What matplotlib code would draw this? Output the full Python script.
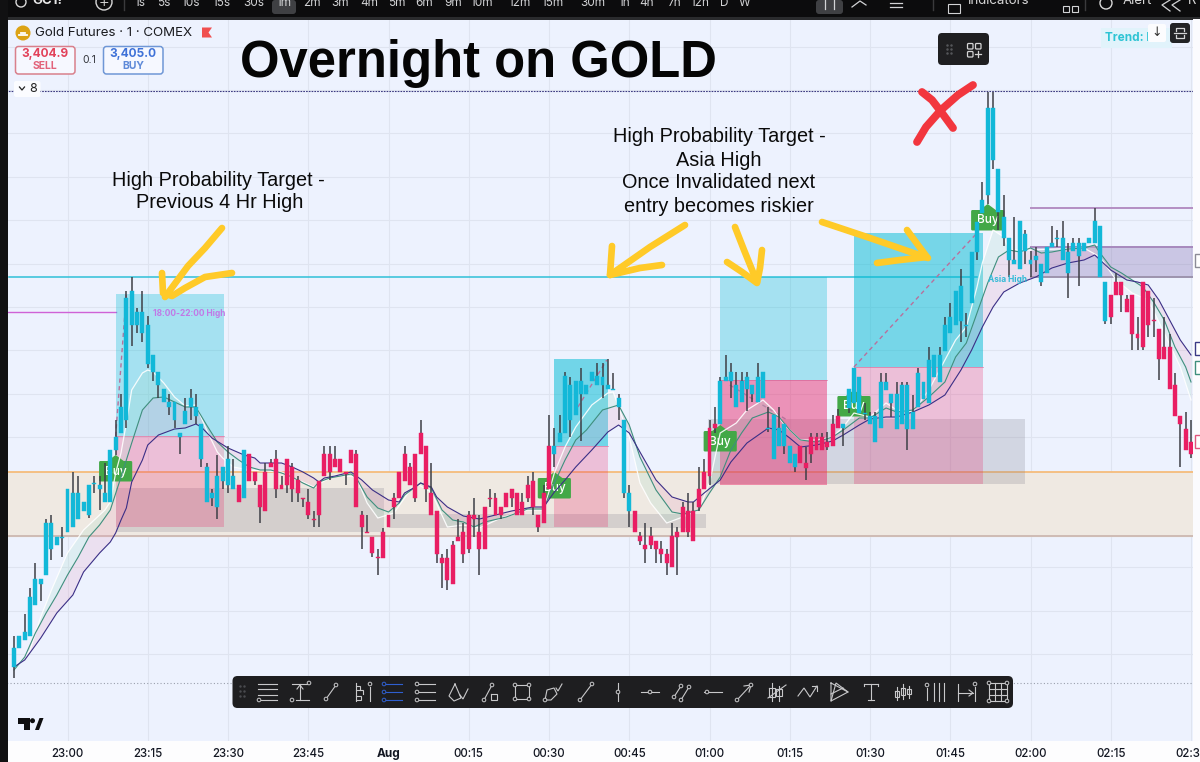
import matplotlib
matplotlib.use('Agg')
import matplotlib.pyplot as plt
from matplotlib.patches import FancyBboxPatch, Rectangle, Polygon, Circle
import numpy as np

# one minute bars, bar 0 is 22:50
body_tops = [
    3365.2, 3366.4, 3366.8, 3370.3, 3372.1, 3372.1, 3377.7, 3377.7, 3376.3, 3376.3,
    3381.1, 3380.7, 3380.7, 3379.8, 3381.5, 3381.7, 3381.5, 3380.7, 3385.0, 3386.3,
    3389.3, 3400.2, 3400.9, 3398.8, 3398.8, 3397.5, 3394.5, 3392.8, 3391.1, 3389.8,
    3389.8, 3386.7, 3388.9, 3390.2, 3389.3, 3387.6, 3383.3, 3380.7, 3382.4, 3383.3,
    3384.1, 3382.4, 3381.5, 3385.0, 3384.6, 3382.8, 3381.5, 3382.8, 3383.7, 3384.1,
    3381.5, 3384.1, 3383.3, 3382.0, 3380.2, 3379.8, 3378.1, 3381.9, 3384.6, 3384.6,
    3384.1, 3384.1, 3382.8, 3385.0, 3384.6, 3378.5, 3376.8, 3376.3, 3374.3, 3376.8,
    3378.5, 3380.2, 3382.8, 3384.6, 3383.3, 3384.6, 3386.7, 3385.4, 3380.7, 3378.9,
    3374.2, 3374.2, 3375.5, 3376.3, 3376.8, 3378.5, 3378.5, 3376.8, 3379.3, 3380.2,
    3380.2, 3379.3, 3380.7, 3381.1, 3380.7, 3379.8, 3381.5, 3381.9, 3378.5, 3380.7,
    3385.4, 3385.4, 3386.7, 3392.4, 3391.5, 3391.9, 3391.9, 3391.5, 3392.8, 3392.4,
    3392.3, 3391.5, 3391.1, 3390.2, 3388.0, 3380.7, 3378.9, 3376.4, 3375.5, 3376.4,
    3375.9, 3375.1, 3374.6, 3376.4, 3376.8, 3379.3, 3378.9, 3378.9, 3381.1, 3382.8,
    3387.2, 3387.6, 3391.9, 3392.3, 3392.8, 3391.5, 3391.9, 3392.3, 3391.5, 3392.3,
    3392.8, 3387.2, 3388.5, 3387.2, 3387.6, 3385.4, 3384.6, 3385.4, 3383.7, 3386.3,
    3386.3, 3386.3, 3385.8, 3387.6, 3388.4, 3387.6, 3391.1, 3393.2, 3392.3, 3388.7,
    3388.4, 3388.4, 3391.8, 3391.8, 3390.6, 3390.6, 3391.5, 3391.5, 3388.8, 3392.7,
    3391.8, 3394.0, 3394.5, 3394.5, 3397.5, 3398.3, 3400.9, 3401.4, 3397.5, 3404.8,
    3407.8, 3410.0, 3419.2, 3419.2, 3413.1, 3408.3, 3406.2, 3404.0, 3407.9, 3406.6,
    3404.0, 3404.4, 3403.6, 3405.3, 3405.7, 3406.2, 3406.2, 3404.8, 3405.7, 3405.7,
    3405.7, 3406.2, 3407.9, 3407.4, 3401.8, 3400.5, 3401.8, 3401.8, 3400.1, 3400.5,
    3396.6, 3401.8, 3400.9, 3398.0, 3397.1, 3395.3, 3395.3, 3391.5, 3388.4, 3387.1, 3385.8,
]
body_bottoms = [
    3363.3, 3365.2, 3366.0, 3366.4, 3369.5, 3371.6, 3372.5, 3375.1, 3375.5, 3376.2,
    3376.8, 3377.3, 3378.1, 3378.9, 3378.5, 3381.6, 3381.1, 3379.8, 3379.8, 3385.0,
    3386.7, 3388.0, 3397.5, 3397.5, 3396.7, 3393.6, 3392.8, 3391.5, 3389.8, 3389.3,
    3388.0, 3386.3, 3387.6, 3389.3, 3388.4, 3384.1, 3379.8, 3380.2, 3379.3, 3381.9,
    3381.5, 3381.1, 3379.8, 3380.2, 3381.9, 3381.9, 3379.3, 3378.9, 3383.3, 3381.1,
    3381.1, 3381.5, 3381.1, 3380.7, 3380.1, 3378.5, 3378.0, 3378.5, 3382.4, 3382.8,
    3383.3, 3382.8, 3382.6, 3383.7, 3379.3, 3377.3, 3376.7, 3374.7, 3374.2, 3374.2,
    3377.3, 3379.3, 3380.2, 3381.9, 3381.5, 3380.2, 3384.6, 3381.1, 3378.5, 3374.6,
    3373.7, 3372.0, 3371.6, 3375.9, 3374.6, 3375.1, 3378.1, 3375.1, 3375.1, 3380.1,
    3378.5, 3378.5, 3379.3, 3380.2, 3378.5, 3378.5, 3380.2, 3379.3, 3377.3, 3377.7,
    3381.1, 3384.6, 3385.8, 3386.7, 3388.0, 3388.5, 3390.6, 3390.6, 3391.9, 3391.5,
    3391.5, 3391.1, 3391.0, 3389.3, 3380.7, 3378.9, 3376.8, 3375.9, 3375.1, 3375.5,
    3375.1, 3374.6, 3373.7, 3373.3, 3376.3, 3376.8, 3376.8, 3375.9, 3379.3, 3381.1,
    3382.4, 3387.2, 3387.6, 3391.9, 3391.9, 3389.3, 3389.8, 3391.1, 3390.6, 3389.8,
    3390.2, 3387.1, 3384.1, 3385.4, 3385.4, 3383.7, 3383.3, 3383.7, 3383.2, 3384.6,
    3385.0, 3385.0, 3385.3, 3385.4, 3387.2, 3387.2, 3389.2, 3389.7, 3388.7, 3388.6,
    3387.6, 3385.8, 3387.2, 3391.0, 3389.7, 3387.1, 3387.6, 3387.1, 3387.1, 3389.3,
    3390.1, 3389.7, 3392.3, 3391.8, 3394.9, 3396.7, 3397.5, 3397.9, 3397.4, 3399.7,
    3404.8, 3408.7, 3410.5, 3414.0, 3408.8, 3406.2, 3404.0, 3403.6, 3403.1, 3404.9,
    3403.6, 3404.0, 3401.8, 3402.7, 3405.3, 3406.1, 3404.0, 3402.7, 3404.9, 3404.4,
    3404.9, 3405.7, 3405.7, 3402.3, 3397.9, 3398.3, 3400.5, 3400.5, 3398.8, 3396.6,
    3396.2, 3395.3, 3397.5, 3397.9, 3394.1, 3394.1, 3391.1, 3388.4, 3387.6, 3385.0, 3384.6,
]
highs = [
    3366.4, 3366.4, 3368.6, 3371.2, 3373.7, 3372.1, 3378.1, 3378.5, 3376.3, 3377.3,
    3381.1, 3382.8, 3382.4, 3379.8, 3381.5, 3382.4, 3382.4, 3383.7, 3385.0, 3388.0,
    3390.6, 3400.9, 3402.3, 3399.2, 3400.9, 3398.4, 3394.5, 3392.8, 3391.1, 3390.6,
    3389.8, 3386.7, 3390.2, 3391.1, 3390.6, 3387.6, 3383.7, 3381.1, 3384.5, 3383.3,
    3385.4, 3384.1, 3381.5, 3385.0, 3384.6, 3382.8, 3381.5, 3383.7, 3384.1, 3385.0,
    3382.4, 3384.1, 3383.7, 3382.4, 3380.2, 3381.1, 3378.9, 3381.9, 3385.4, 3385.4,
    3385.4, 3384.1, 3382.8, 3385.0, 3385.0, 3378.9, 3378.5, 3376.3, 3375.1, 3377.2,
    3378.5, 3380.7, 3382.8, 3385.4, 3383.7, 3384.6, 3388.0, 3385.4, 3383.7, 3378.9,
    3374.6, 3375.1, 3375.9, 3378.1, 3377.7, 3378.9, 3380.2, 3378.5, 3379.3, 3381.1,
    3380.7, 3379.3, 3380.7, 3381.1, 3380.7, 3380.7, 3382.4, 3382.8, 3378.5, 3381.5,
    3388.5, 3387.2, 3388.5, 3392.8, 3392.3, 3391.9, 3393.2, 3391.5, 3392.8, 3393.7,
    3393.7, 3394.1, 3392.7, 3390.6, 3388.0, 3381.5, 3378.9, 3376.8, 3377.7, 3377.3,
    3375.9, 3375.9, 3375.1, 3377.7, 3377.3, 3379.8, 3380.7, 3379.8, 3383.3, 3384.1,
    3388.0, 3389.3, 3392.3, 3394.5, 3393.7, 3392.8, 3392.8, 3392.8, 3391.5, 3393.7,
    3392.8, 3389.3, 3388.5, 3389.3, 3387.6, 3385.4, 3384.6, 3385.4, 3385.3, 3386.7,
    3386.7, 3386.7, 3386.8, 3388.5, 3389.1, 3387.6, 3391.1, 3393.2, 3392.3, 3389.7,
    3388.8, 3388.8, 3392.7, 3392.7, 3390.6, 3391.8, 3391.8, 3391.8, 3390.5, 3393.2,
    3391.8, 3395.3, 3394.5, 3395.3, 3398.3, 3399.7, 3400.9, 3403.1, 3398.7, 3404.8,
    3407.8, 3411.8, 3420.8, 3420.8, 3413.1, 3410.5, 3406.2, 3408.3, 3407.9, 3407.0,
    3404.9, 3405.3, 3403.6, 3405.3, 3407.4, 3407.0, 3407.9, 3405.7, 3406.2, 3406.2,
    3405.7, 3406.2, 3409.2, 3407.4, 3401.8, 3400.5, 3402.7, 3401.8, 3400.5, 3400.5,
    3398.3, 3401.8, 3400.9, 3400.2, 3397.1, 3398.3, 3396.6, 3392.7, 3388.4, 3388.8, 3388.0,
]
lows = [
    3362.2, 3365.2, 3366.0, 3366.4, 3369.5, 3369.9, 3372.5, 3374.0, 3375.5, 3374.3,
    3376.8, 3377.3, 3378.1, 3378.9, 3378.2, 3380.7, 3379.0, 3379.8, 3379.8, 3384.5,
    3386.7, 3387.2, 3395.4, 3396.7, 3395.8, 3393.2, 3391.9, 3390.2, 3389.8, 3388.5,
    3387.2, 3384.6, 3387.6, 3388.0, 3387.6, 3383.3, 3379.8, 3379.4, 3378.1, 3381.1,
    3380.7, 3381.1, 3379.8, 3380.2, 3381.9, 3381.5, 3377.7, 3378.9, 3383.3, 3380.2,
    3381.1, 3380.7, 3379.8, 3379.8, 3379.3, 3378.1, 3377.3, 3377.3, 3382.4, 3382.0,
    3383.3, 3382.8, 3381.5, 3383.7, 3379.3, 3375.1, 3376.7, 3374.3, 3372.5, 3374.2,
    3377.3, 3378.1, 3380.2, 3381.9, 3381.5, 3379.8, 3384.6, 3379.8, 3378.5, 3373.7,
    3371.2, 3371.0, 3371.6, 3375.9, 3373.7, 3374.7, 3376.3, 3372.5, 3375.1, 3379.3,
    3378.5, 3378.1, 3379.3, 3379.3, 3378.5, 3378.5, 3379.8, 3378.5, 3376.8, 3377.7,
    3381.1, 3383.3, 3385.8, 3386.7, 3386.3, 3388.5, 3385.9, 3390.6, 3391.9, 3391.5,
    3390.2, 3391.1, 3391.0, 3388.0, 3380.2, 3377.3, 3376.8, 3375.5, 3373.7, 3375.1,
    3373.7, 3373.7, 3372.5, 3373.3, 3372.5, 3376.8, 3376.3, 3375.9, 3378.9, 3381.1,
    3381.5, 3386.7, 3387.6, 3391.9, 3390.2, 3389.3, 3389.8, 3388.9, 3389.8, 3389.8,
    3390.2, 3386.8, 3384.1, 3385.4, 3384.6, 3383.7, 3382.8, 3383.7, 3382.0, 3383.7,
    3385.0, 3385.0, 3385.0, 3385.4, 3387.2, 3385.4, 3388.7, 3389.7, 3388.7, 3388.0,
    3387.6, 3385.8, 3387.2, 3391.0, 3388.3, 3387.1, 3387.6, 3385.0, 3387.1, 3389.3,
    3390.1, 3389.7, 3392.3, 3391.8, 3394.9, 3396.7, 3397.5, 3395.8, 3396.3, 3399.7,
    3404.0, 3408.7, 3409.6, 3413.1, 3407.0, 3405.4, 3402.3, 3403.6, 3403.1, 3403.6,
    3402.3, 3402.8, 3401.4, 3402.7, 3405.3, 3405.3, 3404.0, 3400.2, 3404.9, 3401.4,
    3404.9, 3405.7, 3405.7, 3402.3, 3397.6, 3397.6, 3400.5, 3398.8, 3398.8, 3395.0,
    3395.0, 3395.0, 3396.3, 3396.3, 3392.0, 3394.1, 3391.1, 3388.4, 3383.3, 3385.0, 3384.2,
]
# bars where the candle colour flips, starting out cyan
colour_flips = [42, 43, 44, 101, 116, 132, 147, 155, 205]

slow_bars = [0, 2, 5, 8, 11, 13, 16, 18, 19, 20, 21, 22, 24, 25, 27, 30, 32, 34, 35, 37, 40, 43, 45, 46, 50,
             52, 54, 56, 57, 58, 60, 63, 65, 67, 70, 72, 73, 75, 76, 78, 79, 81, 84, 87, 90, 93, 97, 99, 101,
             103, 105, 108, 111, 113, 115, 117, 120, 123, 126, 127, 129, 132, 134, 137, 141, 143, 145, 147,
             150, 153, 155, 158, 160, 163, 165, 168, 171, 174, 177, 179, 181, 183, 185, 188, 191, 194, 197,
             200, 202, 203, 205, 208, 210, 212, 214, 216, 218, 220]
slow_ma = [3363.3, 3364.0, 3366.2, 3368.7, 3370.5, 3372.8, 3374.7, 3375.8, 3376.7, 3378.0, 3379.2, 3381.8, 3384.0,
           3385.5, 3386.5, 3387.1, 3387.2, 3387.6, 3387.3, 3386.2, 3385.2, 3384.5, 3384.2, 3383.7, 3383.7,
           3383.3, 3382.8, 3382.2, 3381.8, 3382.2, 3382.4, 3382.8, 3382.0, 3381.0, 3380.0, 3379.8, 3380.7,
           3381.3, 3381.7, 3381.3, 3380.3, 3379.3, 3378.4, 3378.1, 3378.5, 3378.9, 3379.3, 3379.3, 3380.8,
           3382.0, 3383.3, 3385.0, 3386.8, 3387.5, 3386.7, 3384.8, 3382.0, 3380.3, 3379.8, 3379.8, 3380.7,
           3382.0, 3383.8, 3385.7, 3387.2, 3387.0, 3386.2, 3385.3,
           3385.5, 3385.9, 3386.5, 3387.5, 3388.1, 3388.3, 3388.3, 3388.8, 3389.5, 3390.5, 3393.0, 3395.0,
           3397.3, 3399.3, 3400.8, 3401.7, 3402.3, 3403.2, 3403.7, 3404.0, 3404.5, 3404.0, 3403.0, 3402.0,
           3401.8, 3401.5, 3400.0, 3398.0, 3396.0, 3394.5]
mid_bars = [0, 2, 4, 6, 8, 10, 12, 14, 16, 18, 20, 22, 24, 26, 28, 30, 32, 34, 36, 38, 40, 42, 44, 46, 48, 50,
            52, 54, 56, 57, 59, 61, 63, 64, 66, 68, 70, 72, 73, 76, 78, 80, 82, 84, 86, 88, 92, 96, 99, 101,
            103, 105, 107, 110, 113, 115, 117, 120, 123, 125, 128, 130, 132, 134, 136, 138, 141, 143, 145,
            147, 150, 153, 155, 158, 160, 163, 165, 168, 171, 174, 176, 178, 180, 182, 184, 186, 188, 190,
            192, 194, 197, 200, 202, 203, 205, 207, 209, 211, 213, 215, 217, 219, 220]
mid_ma = [3363.0, 3364.3, 3366.7, 3368.7, 3370.5, 3372.5, 3374.3, 3376.3, 3377.5, 3379.0, 3382.3, 3385.7, 3389.0,
          3390.2, 3390.3, 3389.8, 3389.3, 3389.3, 3387.5, 3385.8, 3384.8, 3384.0, 3383.3, 3383.0, 3383.0, 3382.7,
          3382.3, 3381.7, 3381.2, 3381.8, 3382.2, 3382.4, 3382.6, 3382.2, 3380.3, 3379.2, 3378.8, 3379.7, 3380.5,
          3381.7, 3381.2, 3379.0, 3378.0, 3377.8, 3377.3, 3377.8, 3378.3, 3379.1, 3379.1, 3381.7,
          3384.0, 3386.0, 3387.0, 3389.0, 3389.5, 3387.5, 3384.3, 3381.0, 3378.8, 3378.6, 3379.0, 3380.7, 3382.3,
          3385.0, 3386.7, 3388.2, 3388.8, 3388.3, 3387.0,
          3386.0, 3385.8, 3386.3, 3387.0, 3388.2, 3388.2, 3389.2, 3388.8, 3389.0, 3390.3, 3391.8, 3394.3, 3395.7,
          3398.7, 3401.7, 3404.3, 3405.0, 3404.8, 3405.2, 3404.7, 3404.8, 3405.1, 3405.2, 3405.5, 3404.7, 3403.3,
          3402.7, 3402.0, 3401.3, 3399.8, 3398.0, 3395.3, 3393.3, 3391.8]
fast_bars = [0, 3, 5, 7, 10, 13, 17, 18, 19, 20, 21, 22, 24, 25, 26, 28, 30, 32, 34, 36, 38, 39, 41, 44, 50, 56,
             60, 64, 66, 68, 71, 75, 78, 81, 84, 87, 91, 96, 99, 101, 103, 105, 108, 111, 112, 115, 117, 119,
             122, 125, 128, 130, 132, 135, 137, 140, 142, 144, 147, 150, 153, 155, 157, 160, 163, 165, 168,
             171, 174, 176, 178, 180, 181, 183, 185, 186, 190, 200, 203, 206, 209, 212, 215, 218, 220]
fast_ma = [3363.0, 3365.0, 3368.3, 3371.0, 3374.7, 3377.0, 3379.0, 3379.8, 3382.7, 3384.7, 3387.7, 3391.0, 3392.7,
           3393.0, 3392.8, 3391.7, 3390.3, 3389.4, 3389.5, 3387.0, 3384.8, 3384.2, 3383.3, 3383.0, 3382.8, 3381.3,
           3382.5, 3382.3, 3379.7, 3378.2, 3378.7, 3381.7, 3380.8, 3377.3, 3377.5, 3377.2, 3378.2, 3379.0, 3379.0,
           3382.7, 3385.3, 3387.3, 3389.5, 3390.7, 3390.8, 3386.3, 3381.7, 3379.7, 3377.7, 3378.3, 3379.0, 3381.7,
           3386.7, 3387.7, 3389.0, 3390.0, 3389.0, 3387.5, 3386.0, 3386.0, 3386.3, 3387.3, 3388.7, 3388.3, 3389.7,
           3389.0, 3388.8, 3391.0, 3394.0, 3396.0, 3397.3, 3401.3, 3403.7, 3407.0, 3406.3, 3405.0, 3405.0, 3405.2,
           3404.3, 3402.0, 3400.7, 3400.0, 3396.7, 3393.3, 3390.0]

# long position tools: start bar, end bar, target, entry, stop
pos_starts = [19, 101, 132, 157]
pos_ends = [39.2, 111.1, 152, 181.2]
pos_targets = [3400.6, 3394.1, 3402.3, 3406.7]
pos_entries = [3386.4, 3385.4, 3392.0, 3393.3]
pos_stops = [3377.3, 3377.3, 3381.5, 3381.6]
pos_blue_alpha = [0.3, 0.52, 0.3, 0.5]
pos_pink_alpha = [0.24, 0.24, 0.45, 0.24]
# dashed path inside each tool
path_x0 = [19, 105.4, 133.8, 157]
path_x1 = [21, 110.8, 144.5, 180]
path_y0 = [3386.4, 3389.3, 3391.5, 3393.3]
path_y1 = [3400.6, 3394.0, 3388.0, 3406.7]

grey_starts = [19, 70, 129.8]
grey_ends = [69.1, 129.3, 189]
grey_tops = [3381.2, 3378.6, 3388.1]
grey_bottoms = [3376.8, 3377.2, 3381.6]

buy_bars = [19, 101, 132, 157, 182]
buy_tips = [3384.5, 3382.8, 3387.5, 3391.0, 3409.6]

tick_bars = [10, 25, 40, 55, 70, 85, 100, 115, 130, 145, 160, 175, 190, 205, 220]
tick_labels = ['23:00', '23:15', '23:30', '23:45', 'Aug', '00:15', '00:30', '00:45',
               '01:00', '01:15', '01:30', '01:45', '02:00', '02:15', '02:30']

interval_labels = ['1s', '5s', '10s', '15s', '30s', '1m', '2m', '3m', '4m', '5m', '6m', '9m', '10m',
                   '12m', '15m', '30m', '1h', '4h', '7h', '12h', 'D', 'W']
interval_x = [140, 164, 191, 222, 254, 284, 312, 340, 369, 397, 424, 453, 482, 520, 553, 593, 624, 647, 674, 700, 724, 745]

BG = '#edf2fe'
CYAN = '#12b8d8'
RED = '#e91e63'
WICK = '#3d3f46'

fig = plt.figure(figsize=(12, 7.62), dpi=100, facecolor='white')

# price chart, x is the bar number and y the price
ax = fig.add_axes([0, 0, 1, 1], facecolor=BG)
ax.set_xlim((0 - 14) / 5.35, (1200 - 14) / 5.35)
ax.set_ylim(3430 - 76.2, 3430)
for spine in ax.spines.values():
    spine.set_visible(False)
ax.set_xticks([])
ax.set_yticks([])

for b in tick_bars:
    ax.axvline(b, color='#dfe4f0', lw=0.8, zorder=1)
for p in np.arange(3399.3 - 4.34 * 8, 3399.3 + 4.34 * 8, 4.34):
    ax.axhline(p, color='#dfe4f0', lw=0.8, zorder=1)

# session range band
ax.axhspan(3376.4, 3382.8, color='#efe9e2', zorder=1.5)
ax.axhline(3382.8, color='#f5bc7c', lw=1.3, zorder=2)
ax.axhline(3376.4, color='#c9b3ad', lw=1.2, zorder=2)

ax.axhline(3420.9, color='#3c3a80', lw=0.8, ls=(0, (1.5, 1)), zorder=2)
ax.axhline(3361.7, color='#9aa0ad', lw=0.8, ls=(0, (1, 2)), zorder=2)
ax.plot([-1, 180], [3402.3, 3402.3], color='#2fc0d8', lw=1.1, zorder=2)
ax.plot([-3, 19], [3398.8, 3398.8], color='#cf62d6', lw=1.0, zorder=2)

# purple range on the right
ax.add_patch(Rectangle((190, 3402.3), 30.4, 3.0, facecolor='#7b63a8', alpha=0.3, edgecolor='none', zorder=2))
ax.plot([190, 220.4], [3405.3, 3405.3], color='#a789bd', lw=1.4, zorder=2.1)
ax.plot([190, 220.4], [3402.3, 3402.3], color='#9c93ad', lw=1.4, zorder=2.1)
ax.plot([190, 220.4], [3409.2, 3409.2], color='#b48fc3', lw=1.4, zorder=2.1)

for x0, x1, top, bottom in zip(grey_starts, grey_ends, grey_tops, grey_bottoms):
    ax.add_patch(Rectangle((x0, bottom), x1 - x0, top - bottom, facecolor='#7f7f8c', alpha=0.24,
                           edgecolor='none', zorder=2.2))

for i in range(len(pos_starts)):
    w = pos_ends[i] - pos_starts[i]
    ax.add_patch(Rectangle((pos_starts[i], pos_entries[i]), w, pos_targets[i] - pos_entries[i],
                           facecolor='#00bcd4', alpha=pos_blue_alpha[i], edgecolor='none', zorder=2.4))
    ax.add_patch(Rectangle((pos_starts[i], pos_stops[i]), w, pos_entries[i] - pos_stops[i],
                           facecolor='#e91e63', alpha=pos_pink_alpha[i], edgecolor='none', zorder=2.4))
    ax.plot([pos_starts[i], pos_ends[i]], [pos_entries[i]] * 2, color='#d0568c', lw=0.6, alpha=0.6, zorder=2.5)
    ax.plot([path_x0[i], path_x1[i]], [path_y0[i], path_y1[i]], color='#b8709c', lw=1.0,
            ls=(0, (3, 2.5)), zorder=2.6)

# ribbons between the averages
ax.fill(list(fast_bars) + list(mid_bars)[::-1], list(fast_ma) + list(mid_ma)[::-1],
        color='#a9dcc8', alpha=0.22, lw=0, zorder=3)
ax.fill(list(mid_bars) + list(slow_bars)[::-1], list(mid_ma) + list(slow_ma)[::-1],
        color='#e8a0c0', alpha=0.22, lw=0, zorder=3)

# buy labels sit under the candles
for bar, tip in zip(buy_bars, buy_tips):
    ax.add_patch(FancyBboxPatch((bar - 3.1, tip - 2.65), 6.2, 2.05,
                                boxstyle='round,pad=0,rounding_size=0.25', mutation_aspect=0.55,
                                facecolor='#43a847', edgecolor='none', zorder=3.5))
    ax.add_patch(Polygon([[bar - 1.5, tip - 0.6], [bar, tip], [bar + 1.5, tip - 0.6]],
                         facecolor='#43a847', edgecolor='none', zorder=3.5))
    ax.text(bar, tip - 1.65, 'Buy', color='white', fontsize=8.5, family='Inter', weight='medium',
            ha='center', va='center', zorder=3.6)

ax.plot(fast_bars, fast_ma, color='white', lw=0.9, alpha=0.9, zorder=3.8)
ax.plot(mid_bars, mid_ma, color='#3f8f7e', lw=0.8, zorder=3.9)
ax.plot(slow_bars, slow_ma, color='#3b2f86', lw=0.8, zorder=3.9)

# candles
bars = np.arange(len(highs))
up = np.ones(len(highs), dtype=bool)
for flip in colour_flips:
    up[flip:] = ~up[flip:]
colours = [CYAN if u else RED for u in up]
ax.vlines(bars, lows, highs, color=WICK, lw=1.1, zorder=4)
ax.bar(bars, np.array(body_tops) - np.array(body_bottoms), bottom=body_bottoms, width=0.74,
       color=colours, edgecolor=colours, lw=0.3, zorder=4.2)

ax.text(26, 3398.6, '18:00-22:00 High', color='#c178e6', fontsize=6, family='Inter', weight='bold',
        va='center', zorder=5)
ax.text(182, 3402.1, 'Asia High', color='#30b9d6', fontsize=6, family='Inter', weight='bold',
        va='center', zorder=5)

# screen furniture and hand drawn notes, in image pixels
ui = fig.add_axes([0, 0, 1, 1], facecolor='none')
ui.set_xlim(0, 1200)
ui.set_ylim(762, 0)
ui.axis('off')


def box(x0, y0, x1, y1, fc, ec='none', lw=0, r=0.0, z=5):
    if r:
        p = FancyBboxPatch((x0, y0), x1 - x0, y1 - y0, boxstyle=f'round,pad=0,rounding_size={r}',
                           facecolor=fc, edgecolor=ec, lw=lw, zorder=z)
    else:
        p = Rectangle((x0, y0), x1 - x0, y1 - y0, facecolor=fc, edgecolor=ec, lw=lw, zorder=z)
    ui.add_patch(p)


box(0, 0, 1200, 17, '#0c0c0d')
box(0, 17, 1200, 19.5, '#2a2b2d')
box(0, 0, 8, 762, '#111112')
box(8, 741, 1200, 762, '#fdfdfe')
box(1193, 19, 1200, 741, '#fbfbfe')

box(272, 0, 296, 14, '#3f4043', r=3, z=5.1)
box(816, 0, 843, 14, '#3f4043', r=3, z=5.1)
for lab, x in zip(interval_labels, interval_x):
    ui.text(x, 3, lab, color='#d2d3d5', fontsize=8.5, family='Inter', ha='center', va='center', zorder=6)
ui.text(32, 1, 'GC1!', color='#e6e6e6', fontsize=9.5, family='Inter', weight='bold', va='center', zorder=6)
ui.add_patch(Circle((21, 2), 5, fill=False, ec='#d8d8d8', lw=1, zorder=6))
ui.add_patch(Circle((104, 2), 8, fill=False, ec='#d8d8d8', lw=1, zorder=6))
ui.text(104, 2, '+', color='#d8d8d8', fontsize=9, ha='center', va='center', zorder=6)
ui.text(968, 1, 'Indicators', color='#d8d8d8', fontsize=9.5, family='Inter', va='center', zorder=6)
ui.text(1123, 1, 'Alert', color='#d8d8d8', fontsize=9.5, family='Inter', va='center', zorder=6)
ui.text(1192, 1, 'R', color='#d8d8d8', fontsize=9.5, family='Inter', ha='center', va='center', zorder=6)
ui.plot([124, 124], [0, 10], color='#3a3a3c', lw=1, zorder=6)
ui.plot([1085, 1085], [0, 10], color='#3a3a3c', lw=1, zorder=6)
ui.plot([933, 933], [0, 10], color='#3a3a3c', lw=1, zorder=6)
# chart type and indicator glyphs up in the bar
for gx in (825, 834):
    ui.plot([gx, gx], [0, 9], color='#d2d3d5', lw=0.9, zorder=6)
ui.plot([852, 860, 866], [7, 1, 5], color='#d2d3d5', lw=0.9, zorder=6)
ui.plot([890, 902], [3, 3], color='#d2d3d5', lw=0.9, zorder=6)
ui.plot([890, 902], [7, 7], color='#d2d3d5', lw=0.9, zorder=6)
box(948, 4, 960, 13, 'none', ec='#d2d3d5', lw=0.8, z=6)
box(1063, 6, 1069, 12, 'none', ec='#d2d3d5', lw=0.8, z=6)
box(1072, 6, 1078, 12, 'none', ec='#d2d3d5', lw=0.8, z=6)
ui.add_patch(Circle((1106, 3), 6, fill=False, ec='#d8d8d8', lw=1, zorder=6))
ui.plot([1170, 1162, 1170], [0, 5, 11], color='#d2d3d5', lw=0.9, zorder=6)
ui.plot([1180, 1172, 1180], [0, 5, 11], color='#d2d3d5', lw=0.9, zorder=6)

# symbol header
ui.add_patch(Circle((23, 33), 7.5, fc='#dca315', ec='none', zorder=6))
ui.plot([19, 27], [35, 35], color='white', lw=1.3, zorder=6.1)
ui.plot([21, 25], [32.5, 32.5], color='white', lw=1.3, zorder=6.1)
ui.text(35, 33, 'Gold Futures · 1 · COMEX', color='#1b1c20', fontsize=9.6, family='Inter', va='center', zorder=6)
ui.add_patch(Polygon([[202, 27.5], [212, 27.5], [208.5, 32.5], [212, 37.5], [202, 37.5]],
                     fc='#f04f4f', ec='none', zorder=6))
box(15.5, 46.5, 75, 74, '#f6f8ff', ec='#d9808c', lw=1.1, r=3, z=6)
box(103.5, 46.5, 163, 74, '#f6f8ff', ec='#6f97d6', lw=1.1, r=3, z=6)
ui.text(45, 54.5, '3,404.9', color='#e2425a', fontsize=8.5, family='Inter', weight='bold', ha='center', va='center', zorder=7)
ui.text(45, 66, 'SELL', color='#e2627a', fontsize=7.5, family='Inter', weight='bold', ha='center', va='center', zorder=7)
ui.text(133, 54.5, '3,405.0', color='#3f72d8', fontsize=8.5, family='Inter', weight='bold', ha='center', va='center', zorder=7)
ui.text(133, 66, 'BUY', color='#5f8ad8', fontsize=7.5, family='Inter', weight='bold', ha='center', va='center', zorder=7)
ui.text(89, 60, '0.1', color='#33353b', fontsize=7.5, family='Inter', ha='center', va='center', zorder=7)
box(14, 81, 40.5, 97, '#fbfcff', r=2, z=6)
ui.plot([19.5, 22, 24.5], [87, 90, 87], color='#222', lw=0.9, zorder=7)
ui.text(33, 88.5, '8', color='#222', fontsize=9, family='Inter', ha='center', va='center', zorder=7)

# floating widgets
box(938, 33, 989, 65, '#1f1f21', r=4, z=6)
for dx in (947, 951):
    for dy in (45, 49, 53):
        ui.plot([dx], [dy], '.', color='#55565a', ms=1.6, zorder=7)
for sx, sy in ((967.5, 43.5), (975.5, 43.5), (967.5, 51.5)):
    box(sx, sy, sx + 5.5, sy + 5.5, 'none', ec='#d5d5d6', lw=0.9, r=1, z=7)
ui.plot([975, 981], [54, 54], color='#d5d5d6', lw=0.9, zorder=7)
ui.plot([978, 978], [51, 57], color='#d5d5d6', lw=0.9, zorder=7)
box(1101, 28, 1172, 48, '#e1f3fb', z=6)
ui.text(1105, 38, 'Trend: L', color='#2dc4d4', fontsize=8.5, family='Inter', weight='bold', va='center', zorder=6.5)
box(1148, 24, 1166, 42, '#fcfcfe', r=2, z=7)
ui.text(1157, 33, '↓', color='#333', fontsize=9, family='DejaVu Sans', ha='center', va='center', zorder=7.5)
box(1170, 23, 1190, 43, '#232325', r=3, z=7)
ui.plot([1176, 1176, 1184, 1184], [31, 28, 28, 31], color='#d5d5d6', lw=0.9, zorder=7.5)
ui.plot([1176, 1176, 1184, 1184], [35, 38, 38, 35], color='#d5d5d6', lw=0.9, zorder=7.5)
ui.plot([1174, 1186], [33, 33], color='#d5d5d6', lw=0.9, zorder=7.5)

# last value tags on the price scale edge
for y, col in ((260, '#8c8c96'), (348, '#3b3a86'), (367, '#3f8f7e'), (441, '#e0567e')):
    box(1195, y - 6.5, 1203, y + 6.5, 'white', ec=col, lw=1.0, z=6)

for b, lab in zip(tick_bars, tick_labels):
    px = 14 + 5.35 * b
    if lab == 'Aug':
        ui.text(px, 754, lab, color='#131722', fontsize=8.5, family='Inter', weight='bold', ha='center', va='center', zorder=7)
    else:
        ui.text(px, 754, lab, color='#131722', fontsize=8.3, family='Inter', weight='medium', ha='center', va='center', zorder=7)

# TradingView mark
ui.add_patch(Polygon([[18, 718], [30, 718], [30, 730], [23.5, 730], [23.5, 723.5], [18, 723.5]], fc='#0e0e10', ec='none', zorder=6))
ui.add_patch(Circle((32.5, 720.7), 2.5, fc='#0e0e10', ec='none', zorder=6))
ui.add_patch(Polygon([[35, 730], [39.5, 718], [43.5, 718], [39, 730]], fc='#0e0e10', ec='none', zorder=6))

# drawing toolbar
box(232.5, 676, 1013, 708, '#1e1e20', r=5, z=6)
for dx in (240, 244):
    for dy in (686, 691, 696):
        ui.plot([dx], [dy], '.', color='#4b4c50', ms=1.5, zorder=7)

icon_x = [268, 300, 331, 363, 393, 426, 458, 490, 522, 553, 586, 618, 650, 682, 713, 744, 777, 808, 839, 871, 903, 935, 966, 998]
icon_lines = [
    [[(-10, -8), (9, -8)], [(-10, -3), (9, -3)], [(-10, 3), (9, 3)], [(-7, 8), (9, 8)]],
    [[(-8, -8), (7, -8)], [(0, -8), (0, 8)], [(-4, 8), (9, 8)], [(-3, -3), (0, -7), (3, -3)]],
    [[(-5, 7), (5, -7)]],
    [[(-7, -9), (-7, 9)], [(-7, -6), (-3, -6), (-3, -2)], [(-7, -2), (0, -2), (0, 2)], [(-7, 4), (-2, 4), (-2, 8), (-7, 8)], [(7, -5), (7, 9)]],
    [[(-7, -8), (9, -8)], [(-7, 0), (9, 0)], [(-7, 8), (9, 8)]],
    [[(-7, -8), (9, -8)], [(-7, 0), (9, 0)], [(-7, 8), (9, 8)]],
    [[(-3, -8), (-9, 4), (-4, 9), (3, 6), (-3, -8)], [(2, 3), (5, 7), (10, -3)]],
    [[(-6, 8), (2, -7)], [(1, 2), (7, 2), (7, 8), (1, 8), (1, 2)]],
    [[(-7, -7), (7, -7), (7, 7), (-7, 7), (-7, -7)]],
    [[(-8, 8), (-6, -2), (1, -4), (4, 2), (-2, 8), (-8, 8)], [(3, -4), (5, -1), (9, -8)]],
    [[(-6, 8), (6, -8)]],
    [[(0, -9), (0, 9)]],
    [[(-9, 0), (9, 0)]],
    [[(-8, 5), (-1, -6)], [(-1, 8), (7, -5)]],
    [[(-9, 0), (9, 0)]],
    [[(-7, 8), (7, -7)], [(0, -6), (7, -7), (5, 0)]],
    [[(-5, -9), (-5, 9)], [(-8, -4), (-2, -4), (-2, 5), (-8, 5), (-8, -4)], [(2, -6), (2, 9)], [(-1, -3), (5, -3), (5, 4), (-1, 4), (-1, -3)], [(-9, 6), (9, -7)]],
    [[(-10, 4), (-4, -4), (2, 5), (9, -6)], [(4, -6), (9, -6), (9, -1)]],
    [[(-8, -9), (-8, 9), (9, 0), (-8, -9)], [(-8, 9), (-3, -9), (9, 0)], [(-8, 2), (4, -4)]],
    [[(-7, -8), (7, -8)], [(0, -8), (0, 8)], [(-3, 8), (3, 8)], [(-7, -8), (-7, -6)], [(7, -8), (7, -6)]],
    [[(-6, -5), (-6, 8)], [(-8, -1), (-4, -1), (-4, 5), (-8, 5), (-8, -1)], [(0, -8), (0, 7)], [(-2, -4), (2, -4), (2, 3), (-2, 3), (-2, -4)], [(6, -6), (6, 6)], [(4, -3), (8, -3), (8, 2), (4, 2), (4, -3)]],
    [[(-8, -4), (-8, 8)], [(-1, -9), (-1, 9)], [(4, -9), (4, 9)], [(9, -9), (9, 9)]],
    [[(-8, -8), (-8, 9)], [(-8, 1), (7, 1)], [(3, -2), (7, 1), (3, 4)], [(9, -5), (9, 9)]],
    [[(-9, -9), (9, -9), (9, 9), (-9, 9), (-9, -9)], [(-9, -3), (9, -3)], [(-9, 3), (9, 3)], [(-3, -9), (-3, 9)], [(3, -9), (3, 9)]],
]
icon_dots = [
    [(-9, 8)], [(9, -9), (-8, 8)], [(-5, 7), (5, -7)], [(7, -8)], [(-9, -8), (-9, 0), (-9, 8)],
    [(-9, -8), (-9, 0), (-9, 8)], [], [(-6, 8), (2, -7)], [(-7, -7), (7, -7), (-7, 7), (7, 7)], [(-8, 8)],
    [(-6, 8), (6, -8)], [(0, 0)], [(0, 0)], [(-8, 5), (-1, -6), (-1, 8), (7, -5)], [(-6, 0)],
    [(-7, 8), (7, -7)], [], [], [], [], [], [(-8, -7)], [(9, -8)], [(-9, -9), (9, -9), (-9, 9), (9, 9)],
]
for n, (x, segs, dots) in enumerate(zip(icon_x, icon_lines, icon_dots)):
    col = '#2f5fd0' if n == 4 else '#c8c8ca'
    for seg in segs:
        xs = [x + s[0] for s in seg]
        ys = [692 + s[1] for s in seg]
        ui.plot(xs, ys, color=col, lw=0.8, zorder=7, solid_joinstyle='miter')
    for d in dots:
        ui.add_patch(Circle((x + d[0], 692 + d[1]), 1.8, fc='#1e1e20', ec=col, lw=0.7, zorder=7.5))

# yellow arrows
YEL = '#ffca28'
strokes = [
    [(222, 228), (205, 248), (188, 266), (165, 297)],
    [(232, 273), (205, 277), (185, 288), (172, 296), (163, 293), (162, 273)],
    [(685, 225), (650, 247), (610, 275)],
    [(612, 246), (610, 275), (640, 268), (662, 265)],
    [(735, 227), (744, 250), (757, 282)],
    [(727, 262), (742, 272), (757, 283), (760, 268), (762, 250)],
    [(822, 222), (870, 238), (928, 258)],
    [(907, 230), (918, 245), (927, 257), (900, 260), (877, 263)],
]
for s in strokes:
    ui.plot([p[0] for p in s], [p[1] for p in s], color=YEL, lw=4.8, solid_capstyle='round',
            solid_joinstyle='round', zorder=8)

# red cross
ui.plot([973, 958, 941, 926, 917], [85, 95, 110, 127, 142], color='#f2363e', lw=5.6, solid_capstyle='round', zorder=8)
ui.plot([922, 932, 942, 953], [92, 100, 113, 128], color='#f2363e', lw=5.6, solid_capstyle='round', zorder=8)

ui.text(478, 63, 'Overnight on GOLD', color='#050505', fontsize=36.5, family='Liberation Sans', weight='bold',
        ha='center', va='center', zorder=9)
note = dict(color='#0a0a0a', fontsize=14.3, family='Liberation Sans', ha='center', va='center', zorder=9)
ui.text(218, 180, 'High Probability Target -', **note)
ui.text(220, 203, 'Previous 4 Hr High', **note)
ui.text(719, 136, 'High Probability Target -', **note)
ui.text(719, 160, 'Asia High', **note)
ui.text(719, 183, 'Once Invalidated next', **note)
ui.text(719, 206, 'entry becomes riskier', **note)

fig.savefig('out.png', dpi=100, facecolor='white')
